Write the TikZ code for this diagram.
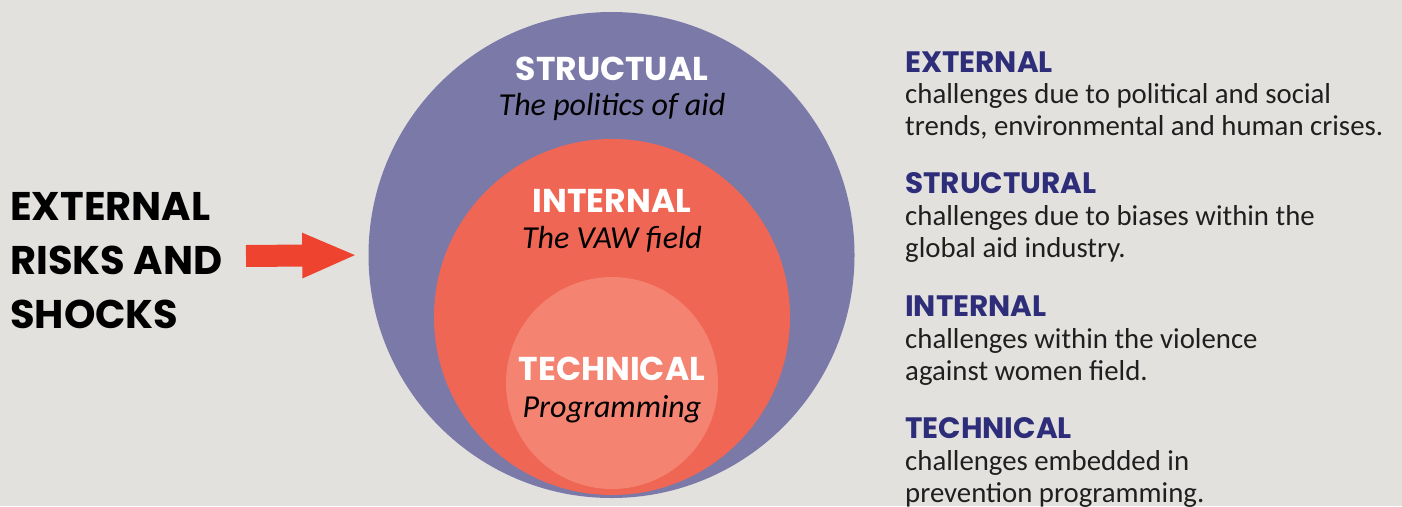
\documentclass[tikz,border=0pt]{standalone}
\usepackage{fontspec}
\setmainfont{Carlito}
\newfontfamily\headfont{Poppins}
\usetikzlibrary{positioning,arrows.meta}
\definecolor{bggray}{HTML}{E2E1DE}
\definecolor{outerpurple}{HTML}{7B79A8}
\definecolor{midred}{HTML}{F06654}
\definecolor{innerred}{HTML}{F48372}
\definecolor{arrowred}{HTML}{EE432E}
\definecolor{headblue}{HTML}{2E2D7A}
\tikzset{
  ring/.style={circle,inner sep=0pt,minimum size=#1},
  ringhead/.style={text=white,font=\headfont\bfseries\fontsize{33}{33}\selectfont,anchor=base,inner sep=0pt},
  ringsub/.style={font=\itshape\fontsize{32}{32}\selectfont,anchor=base,inner sep=0pt},
  keyhead/.style={text=headblue,font=\headfont\bfseries\fontsize{29.5}{29.5}\selectfont,anchor=base west,inner sep=0pt},
  keytext/.style={text=black!88,font=\fontsize{28.8}{32}\selectfont,anchor=base west,inner sep=0pt,align=left},
}

\begin{document}
\begin{tikzpicture}[x=1pt,y=-1pt]
\useasboundingbox (0,0) rectangle (1402,506);
\fill[bggray] (0,0) rectangle (1402,506);
\node[ring=486pt,fill=outerpurple] (outer) at (611.5,255) {};
\node[ring=356pt,fill=midred] (middle) at (612,317) {};
\node[ring=212pt,fill=innerred] (inner) at (612,383) {};
\node[ringhead] (structhead) at (612,80) {STRUCTUAL};
\node[ringsub] (structsub) at (612,115) {The politics of aid};
\node[ringhead] (inthead) at (612,212) {INTERNAL};
\node[ringsub] (intsub) at (612,248) {The VAW field};
\node[ringhead] (techhead) at (612,380) {TECHNICAL};
\node[ringsub] (techsub) at (612,417) {Programming};
\node[anchor=base west,inner sep=0pt,align=left,font=\headfont\bfseries\fontsize{40}{54}\selectfont] (risks) at (10,328) {EXTERNAL\\RISKS AND\\SHOCKS};
\coordinate (shaftstart) at (246,256);
\draw[arrowred,line width=22pt,-{Triangle[length=55pt,width=41pt]},shorten >=11pt] (shaftstart) -- (outer.west);
\node[keyhead] (exthead) at (905,72) {EXTERNAL};
\node[keytext] (exttext) at (905,135) {challenges due to political and social\\trends, environmental and human crises.};
\node[keyhead] (strhead) at (905,193) {STRUCTURAL};
\node[keytext] (strtext) at (905,257) {challenges due to biases within the\\global aid industry.};
\node[keyhead] (inthead2) at (905,316) {INTERNAL};
\node[keytext] (inttext) at (905,380) {challenges within the violence\\against women field.};
\node[keyhead] (techhead2) at (905,438) {TECHNICAL};
\node[keytext] (techtext) at (905,502) {challenges embedded in\\prevention programming.};
\end{tikzpicture}
\end{document}
